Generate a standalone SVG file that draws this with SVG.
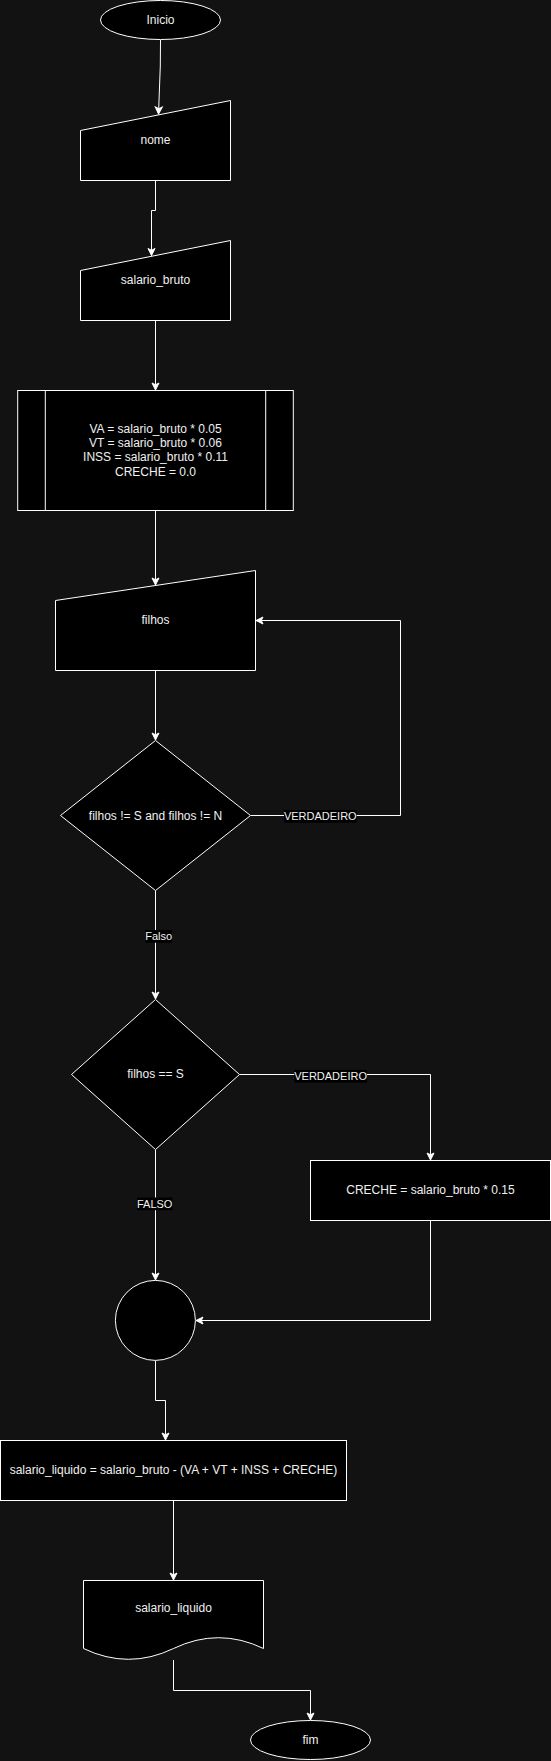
<svg xmlns="http://www.w3.org/2000/svg" width="551" height="1761" viewBox="0 0 551 1761">
<style>
.node{fill:#000000;stroke:#ffffff;stroke-width:1}
.txt{font-family:"Liberation Sans",Arial,Helvetica,sans-serif;font-size:12px;fill:#f0f0f0;text-anchor:middle}
.edge{fill:none;stroke:#ffffff;stroke-width:1}
.lbl{font-family:"Liberation Sans",Arial,Helvetica,sans-serif;font-size:11px;fill:#f0f0f0;text-anchor:middle}
.lblbg{fill:#000000}
</style>
<defs>
<marker id="arr" viewBox="-9 -5 10 10" refX="0" refY="0" markerWidth="10" markerHeight="10" orient="auto" markerUnits="userSpaceOnUse">
<path d="M0,0 L-7,-3.5 L-5.25,0 L-7,3.5 Z" fill="#ffffff" stroke="#ffffff" stroke-width="1"/>
</marker>
</defs>
<rect x="0" y="0" width="551" height="1761" fill="#121212"/>
<g id="connectors">
<path class="edge" d="M160.5 40 L160.3 66 L158.5 114" marker-end="url(#arr)"/>
<path class="edge" d="M155.5 180.5 V210.5 H151.5 V255.5" marker-end="url(#arr)"/>
<path class="edge" d="M155.5 320.5 V390" marker-end="url(#arr)"/>
<path class="edge" d="M155.5 510.5 V585" marker-end="url(#arr)"/>
<path class="edge" d="M155.5 670.5 V740" marker-end="url(#arr)"/>
<path class="edge" d="M250.5 815.5 H400.5 V620.5 H256" marker-end="url(#arr)"/>
<path class="edge" d="M155.5 890.5 V999" marker-end="url(#arr)"/>
<path class="edge" d="M239.5 1074.5 H430.5 V1160" marker-end="url(#arr)"/>
<path class="edge" d="M155.5 1149.5 V1280" marker-end="url(#arr)"/>
<path class="edge" d="M430.5 1220.5 V1320.5 H196" marker-end="url(#arr)"/>
<path class="edge" d="M155.5 1360.5 V1400.5 H165.5 V1440" marker-end="url(#arr)"/>
<path class="edge" d="M173.5 1500.5 V1580" marker-end="url(#arr)"/>
<path class="edge" d="M173.5 1660 V1690.5 H310.5 V1720" marker-end="url(#arr)"/>
<rect class="lblbg" x="284" y="810" width="72.7" height="12.7"/>
<text class="lbl" x="320.3" y="820.3">VERDADEIRO</text>
<rect class="lblbg" x="145.3" y="930" width="26.7" height="12.7"/>
<text class="lbl" x="158.7" y="940.3">Falso</text>
<rect class="lblbg" x="294.3" y="1069.9" width="72.7" height="12.7"/>
<text class="lbl" x="330.6" y="1080.2">VERDADEIRO</text>
<rect class="lblbg" x="137" y="1197.5" width="35.5" height="12.7"/>
<text class="lbl" x="154.7" y="1207.8">FALSO</text>
</g>
<g id="inicio">
<ellipse class="node" cx="160.5" cy="20" rx="60" ry="19.5"/>
<text class="txt" x="160.5" y="24">Inicio</text>
</g>
<g id="nome">
<polygon class="node" points="80.5,130.5 230.5,100.5 230.5,180.5 80.5,180.5"/>
<text class="txt" x="155.5" y="144">nome</text>
</g>
<g id="salario_bruto">
<polygon class="node" points="80.5,270.5 230.5,240.5 230.5,320.5 80.5,320.5"/>
<text class="txt" x="155.5" y="284">salario_bruto</text>
</g>
<g id="calculos">
<rect class="node" x="17.7" y="390.5" width="275.6" height="120"/>
<line class="edge" x1="45.3" y1="390.5" x2="45.3" y2="510.5"/>
<line class="edge" x1="265.7" y1="390.5" x2="265.7" y2="510.5"/>
<text class="txt" x="155.5" y="432.5">VA = salario_bruto * 0.05</text>
<text class="txt" x="155.5" y="446.9">VT = salario_bruto * 0.06</text>
<text class="txt" x="155.5" y="461.3">INSS = salario_bruto * 0.11</text>
<text class="txt" x="155.5" y="475.7">CRECHE = 0.0</text>
</g>
<g id="filhos">
<polygon class="node" points="55.5,600.5 255.5,570.5 255.5,670.5 55.5,670.5"/>
<text class="txt" x="155.5" y="624">filhos</text>
</g>
<g id="decisao1">
<polygon class="node" points="60.5,815.5 155.5,740.5 250.5,815.5 155.5,890.5"/>
<text class="txt" x="155.5" y="819.5">filhos != S and filhos != N</text>
</g>
<g id="decisao2">
<polygon class="node" points="71.5,1074.5 155.5,999.5 239.5,1074.5 155.5,1149.5"/>
<text class="txt" x="155.5" y="1078">filhos == S</text>
</g>
<g id="creche">
<rect class="node" x="310.5" y="1160.5" width="240" height="60"/>
<text class="txt" x="430.5" y="1194">CRECHE = salario_bruto * 0.15</text>
</g>
<g id="juncao">
<circle class="node" cx="155.4" cy="1320.4" r="40"/>
</g>
<g id="salario_liquido_calc">
<rect class="node" x="0.5" y="1440.5" width="346" height="60"/>
<text class="txt" x="173.5" y="1474">salario_liquido = salario_bruto - (VA + VT + INSS + CRECHE)</text>
</g>
<g id="salario_liquido_out">
<path class="node" d="M83.5 1580.5 H263.5 V1648.5 Q218.5 1626.9 173.5 1648.5 Q128.5 1670.1 83.5 1648.5 Z"/>
<text class="txt" x="173.5" y="1612">salario_liquido</text>
</g>
<g id="fim">
<ellipse class="node" cx="310.5" cy="1740" rx="60" ry="19.5"/>
<text class="txt" x="310.5" y="1744">fim</text>
</g>
</svg>
